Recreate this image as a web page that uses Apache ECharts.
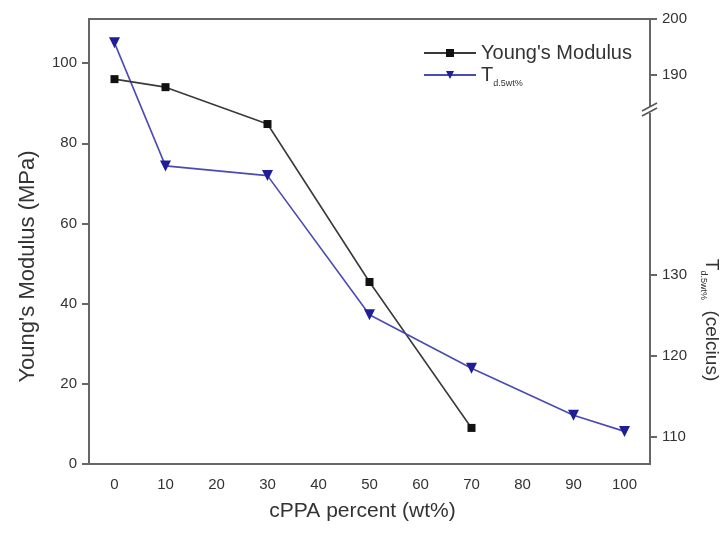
<!DOCTYPE html>
<html><head><meta charset="utf-8">
<script src="https://cdn.jsdelivr.net/npm/echarts@6/dist/echarts.min.js"></script>
<style>html,body{margin:0;padding:0;background:#fff}#c{width:724px;height:535px}</style>
</head><body><div id="c"></div>
<script>
// ---- data ----
const xCategories = [0, 10, 20, 30, 40, 50, 60, 70, 80, 90, 100];
const modulusX = [0, 10, 30, 50, 70];
const modulusY = [96.0, 94.0, 84.8, 45.4, 9.0];
const tdX = [0, 10, 30, 50, 70, 90, 100];
const tdY = [195.7, 143.5, 142.3, 125.1, 118.5, 112.7, 110.7];
const leftTicks = [0, 20, 40, 60, 80, 100];
const rightLowerTicks = [110, 120, 130];
const rightUpperTicks = [190, 200];
const breakLow = 150.9;   // top of lower right segment
const breakHigh = 184.3;  // bottom of upper right segment

// ---- layout / style ----
const L = 89, R = 74, TOP = 19, BOT = 71, SPLIT = 106;
const axisColor = '#666', textColor = '#333';
const blackLine = '#3a3a3a', blackMark = '#111';
const blueLine = '#4a4ab4', blueMark = '#1e1e96';
const FONT = 'Liberation Sans, Arial, sans-serif';

const chart = echarts.init(document.getElementById('c'), null, {renderer: 'canvas'});
const idx = x => xCategories.indexOf(x);
const catAxisBase = {type: 'category', data: xCategories.map(String), boundaryGap: true};

const upperData = [], lowerData = [];
tdX.forEach((x, i) => {
  if (tdY[i] >= breakHigh) upperData.push([idx(x), tdY[i]]);
  if (tdY[i] <= breakLow) lowerData.push([idx(x), tdY[i]]);
});

const option = {
  backgroundColor: '#fff',
  animation: false,
  textStyle: {fontFamily: FONT},
  grid: [
    {left: L, right: R, top: TOP, bottom: BOT, show: true, borderColor: axisColor, borderWidth: 2, backgroundColor: 'transparent'},
    {left: L, right: R, top: TOP, height: SPLIT - TOP},
    {left: L, right: R, top: SPLIT, bottom: BOT}
  ],
  xAxis: [
    Object.assign({}, catAxisBase, {
      gridIndex: 0,
      axisLine: {lineStyle: {color: axisColor, width: 2}},
      axisTick: {alignWithLabel: true, length: 7, lineStyle: {color: axisColor, width: 2}},
      axisLabel: {color: textColor, fontSize: 15, margin: 13, fontFamily: FONT},
      splitLine: {show: false},
      name: 'cPPA percent (wt%)', nameLocation: 'middle', nameGap: 37,
      nameTextStyle: {color: textColor, fontSize: 21, fontFamily: FONT, padding: [0, 14, 0, 0]}
    }),
    Object.assign({}, catAxisBase, {gridIndex: 1, show: false}),
    Object.assign({}, catAxisBase, {gridIndex: 2, show: false})
  ],
  yAxis: [
    {
      type: 'value', gridIndex: 0, position: 'left', min: 0, max: 111,
      axisLine: {show: true, lineStyle: {color: axisColor, width: 2}},
      axisTick: {show: true, length: 7, customValues: leftTicks, lineStyle: {color: axisColor, width: 2}},
      axisLabel: {color: textColor, fontSize: 15, margin: 12, customValues: leftTicks, fontFamily: FONT},
      splitLine: {show: false},
      name: "Young's Modulus (MPa)", nameLocation: 'middle', nameGap: 50,
      nameTextStyle: {color: textColor, fontSize: 22, fontFamily: FONT, padding: [0, 50, 0, 0]}
    },
    {
      type: 'value', gridIndex: 1, position: 'right', min: breakHigh, max: 200,
      axisLine: {show: true, lineStyle: {color: axisColor, width: 2}},
      axisTick: {show: true, length: 7, customValues: rightUpperTicks, lineStyle: {color: axisColor, width: 2}},
      axisLabel: {color: textColor, fontSize: 15, margin: 12, customValues: rightUpperTicks, fontFamily: FONT},
      splitLine: {show: false}
    },
    {
      type: 'value', gridIndex: 2, position: 'right', min: 106.67, max: breakLow,
      axisLine: {show: true, lineStyle: {color: axisColor, width: 2}},
      axisTick: {show: true, length: 7, customValues: rightLowerTicks, lineStyle: {color: axisColor, width: 2}},
      axisLabel: {color: textColor, fontSize: 15, margin: 12, customValues: rightLowerTicks, fontFamily: FONT},
      splitLine: {show: false}
    }
  ],
  legend: {
    orient: 'vertical', left: 418, top: 38, itemGap: 2, itemWidth: 52, itemHeight: 10,
    data: ["Young's Modulus", 'Td'],
    formatter: n => n === 'Td' ? '{t|T}{s|d.5wt%}' : n,
    textStyle: {color: textColor, fontSize: 20, fontFamily: FONT,
      rich: {t: {fontSize: 20, fontFamily: FONT, color: textColor}, s: {fontSize: 9, fontFamily: FONT, color: textColor, padding: [17, 0, 0, 0]}}}
  },
  series: [
    {
      name: "Young's Modulus", type: 'line', xAxisIndex: 0, yAxisIndex: 0,
      data: modulusX.map((x, i) => [idx(x), modulusY[i]]),
      symbol: 'rect', symbolSize: 8, itemStyle: {color: blackMark},
      lineStyle: {color: blackLine, width: 1.6}, z: 3
    },
    {
      name: 'Td', type: 'line', xAxisIndex: 1, yAxisIndex: 1, data: upperData,
      symbol: 'triangle', symbolRotate: 180, symbolSize: 11, itemStyle: {color: blueMark},
      lineStyle: {color: blueLine, width: 1.6}, z: 3
    },
    {
      name: 'Td', type: 'line', xAxisIndex: 2, yAxisIndex: 2, data: lowerData,
      symbol: 'triangle', symbolRotate: 180, symbolSize: 11, itemStyle: {color: blueMark},
      lineStyle: {color: blueLine, width: 1.6}, z: 3
    }
  ]
};
chart.setOption(option);

// segments of the Td curve that cross the axis break, mapped through each segment's own axis
const graphics = [];
for (let i = 0; i < tdX.length - 1; i++) {
  const aUp = tdY[i] >= breakHigh, bUp = tdY[i + 1] >= breakHigh;
  if (aUp !== bUp) {
    const p1 = chart.convertToPixel({gridIndex: aUp ? 1 : 2}, [idx(tdX[i]), tdY[i]]);
    const p2 = chart.convertToPixel({gridIndex: bUp ? 1 : 2}, [idx(tdX[i + 1]), tdY[i + 1]]);
    graphics.push({type: 'line', z: 1, shape: {x1: p1[0], y1: p1[1], x2: p2[0], y2: p2[1]},
      style: {stroke: blueLine, lineWidth: 1.6}});
  }
}
// break marks on the right axis
const bx = chart.getWidth() - R;
const by = chart.convertToPixel({gridIndex: 1}, [0, breakHigh])[1] + 3;
graphics.push({type: 'rect', z: 5, shape: {x: bx - 3, y: by - 3, width: 6, height: 7}, style: {fill: '#fff'}});
graphics.push({type: 'line', z: 6, shape: {x1: bx - 8, y1: by + 2, x2: bx + 7, y2: by - 6}, style: {stroke: '#555', lineWidth: 1.5}});
graphics.push({type: 'line', z: 6, shape: {x1: bx - 8, y1: by + 7, x2: bx + 7, y2: by - 1}, style: {stroke: '#555', lineWidth: 1.5}});
// right axis title
graphics.push({
  type: 'text', z: 5, x: 711, y: 320, rotation: -Math.PI / 2,
  style: {
    text: '{t|T}{s|d.5wt%}{t|  (celcius)}', align: 'center', verticalAlign: 'middle',
    fill: textColor, font: '19px ' + FONT,
    rich: {t: {fontSize: 19, fontFamily: FONT, fill: textColor}, s: {fontSize: 9, fontFamily: FONT, fill: textColor, padding: [16, 0, 0, 0]}}
  }
});
chart.setOption({graphic: graphics});
</script></body></html>
